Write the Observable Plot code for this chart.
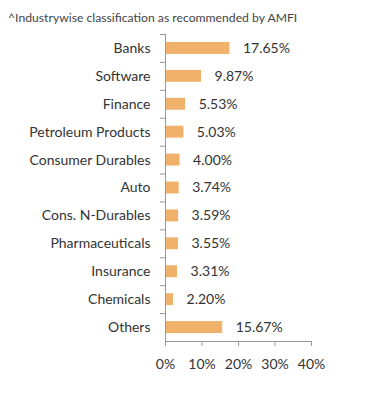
<!DOCTYPE html>
<html>
<head>
<meta charset="utf-8">
<script src="https://cdn.jsdelivr.net/npm/d3@7"></script>
<script src="https://cdn.jsdelivr.net/npm/@observablehq/plot@0.6"></script>
<style>
  body { margin: 0; background: #fff; font-family: Lato, "Open Sans", sans-serif; }
  #title { height: 30px; box-sizing: border-box; padding: 10px 0 0 8px; font-size: 12.2px; line-height: 16px; color: #444; }
  [aria-label="x-axis tick"] { stroke: #999; }
</style>
</head>
<body>
<div id="title">^Industrywise classification as recommended by AMFI</div>
<div id="chart"></div>
<script>
const categories = ["Banks","Software","Finance","Petroleum Products","Consumer Durables","Auto","Cons. N-Durables","Pharmaceuticals","Insurance","Chemicals","Others"];
const values = [17.65, 9.87, 5.53, 5.03, 4.00, 3.74, 3.59, 3.55, 3.31, 2.20, 15.67];
const xTicks = [0, 10, 20, 30, 40];

const data = categories.map((c, i) => ({category: c, value: values[i]}));

const W = 391, H = 364, MT = 4, MB = 53, ML = 165, MR = 80;
const step = (H - MT - MB) / categories.length;
const axisColor = "#999";

const chart = Plot.plot({
  width: W, height: H,
  marginTop: MT, marginBottom: MB, marginLeft: ML, marginRight: MR,
  style: {fontFamily: "Lato, 'Open Sans', sans-serif", fontSize: "14px", color: "#333", background: "#fff"},
  x: {domain: [0, 40], ticks: xTicks, tickFormat: d => d + "%", tickSize: 5, tickPadding: 13, label: null},
  y: {domain: categories, padding: 0, round: false, tickSize: 0, tickPadding: 15, label: null},
  marks: [
    Plot.barX(data, {x: "value", y: "category", fill: "#F0B16B", insetTop: 8, insetBottom: 8}),
    Plot.text(data, {x: "value", y: "category", text: d => d.value.toFixed(2) + "%", textAnchor: "start", dx: 13, fontSize: 14, fill: "#333"}),
    Plot.ruleX([0], {stroke: axisColor}),
    Plot.ruleY([categories[categories.length - 1]], {x1: 0, x2: 40, dy: step / 2, stroke: axisColor}),
    Plot.ruleY(categories, {y: d => d, x1: 0, x2: 0, insetLeft: -5, dy: -step / 2, stroke: axisColor})
  ]
});
document.getElementById("chart").appendChild(chart);
</script>
</body>
</html>
